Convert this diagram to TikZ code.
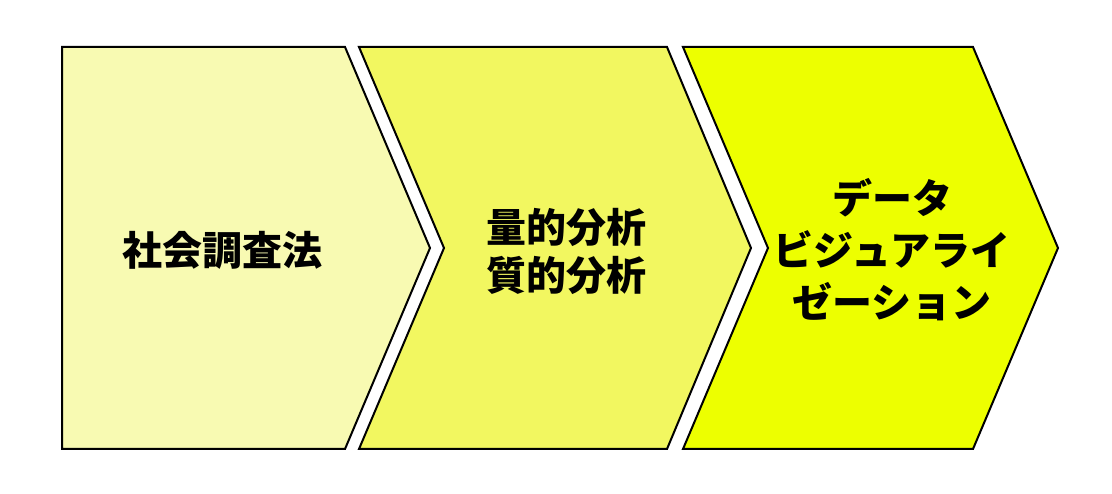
\documentclass[tikz,border=0pt]{standalone}
\usepackage{fontspec}
\newfontfamily\cjk{Noto Sans CJK JP}
\definecolor{yA}{HTML}{F8FAB2}
\definecolor{yB}{HTML}{F2F760}
\definecolor{yC}{HTML}{EDFF00}
\tikzset{
  chev/.style={draw=black, line width=2pt, line join=miter},
  lbl/.style={font=\cjk\bfseries\fontsize{40}{48}\selectfont, align=center, inner sep=0pt},
}
\begin{document}
\begin{tikzpicture}[x=1pt,y=-1pt]
\useasboundingbox (0,0) rectangle (1112,494);
\fill[white] (0,0) rectangle (1112,494);
\draw[chev, fill=yA] (62,47) -- (345,47) -- (430,248) -- (345,449) -- (62,449) -- cycle;
\draw[chev, fill=yB] (359,47) -- (667,47) -- (751,248) -- (667,449) -- (359,449) -- (444,248) -- cycle;
\draw[chev, fill=yC] (683,47) -- (973,47) -- (1058,248) -- (973,449) -- (683,449) -- (768,248) -- cycle;
\node[lbl] (t1) at (222,250) {社会調査法};
\node[lbl] (t2) at (566,251) {量的分析\\質的分析};
\node[lbl, font=\cjk\bfseries\fontsize{40}{52}\selectfont] (t3) at (892,250) {データ\\ビジュアライ\\ゼーション};
\end{tikzpicture}
\end{document}
